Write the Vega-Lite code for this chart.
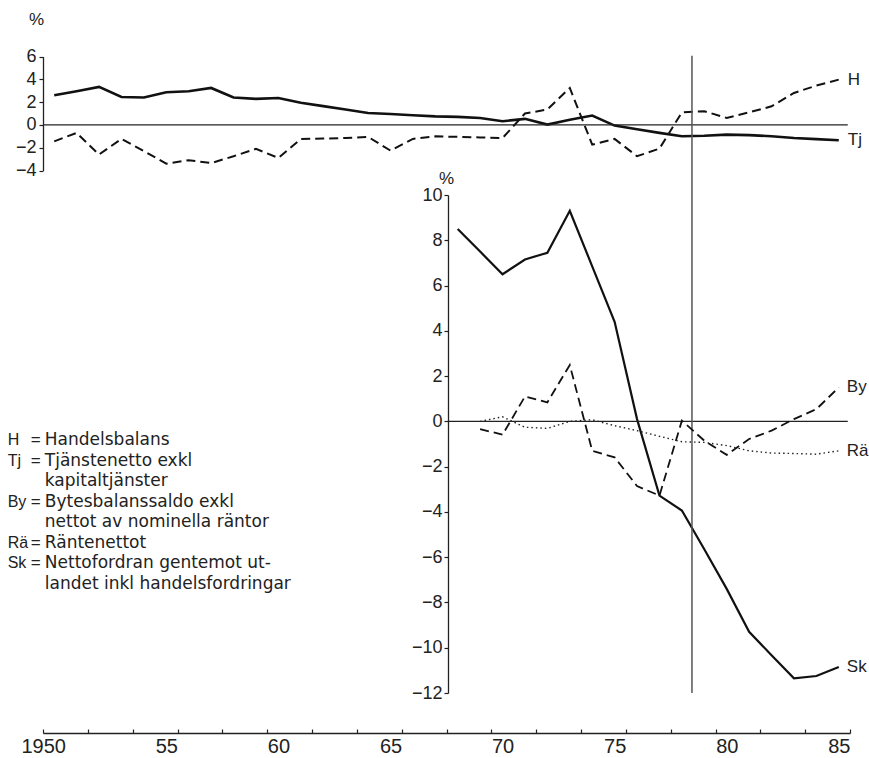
{
  "$schema": "https://vega.github.io/schema/vega-lite/v6.json",
  "width": 807,
  "height": 733,
  "autosize": "none",
  "padding": {"left": 43, "top": 0, "right": 19, "bottom": 25},
  "background": "white",
  "config": {
    "view": {"stroke": null},
    "font": "Liberation Sans",
    "axis": {"grid": false, "domainColor": "#222", "tickColor": "#222", "labelColor": "#222", "titleColor": "#222", "labelFont": "Liberation Sans", "titleFont": "Liberation Sans", "titleFontWeight": "normal"}
  },
  "datasets": {
    "top": [
      {"year":1950,"series":"Tj","value":2.6},{"year":1951,"series":"Tj","value":2.95},{"year":1952,"series":"Tj","value":3.33},{"year":1953,"series":"Tj","value":2.45},{"year":1954,"series":"Tj","value":2.4},{"year":1955,"series":"Tj","value":2.86},{"year":1956,"series":"Tj","value":2.95},{"year":1957,"series":"Tj","value":3.24},{"year":1958,"series":"Tj","value":2.4},{"year":1959,"series":"Tj","value":2.28},{"year":1960,"series":"Tj","value":2.36},{"year":1961,"series":"Tj","value":1.95},{"year":1962,"series":"Tj","value":1.65},{"year":1963,"series":"Tj","value":1.35},{"year":1964,"series":"Tj","value":1.05},{"year":1965,"series":"Tj","value":0.95},{"year":1966,"series":"Tj","value":0.85},{"year":1967,"series":"Tj","value":0.75},{"year":1968,"series":"Tj","value":0.7},{"year":1969,"series":"Tj","value":0.6},{"year":1970,"series":"Tj","value":0.32},{"year":1971,"series":"Tj","value":0.53},{"year":1972,"series":"Tj","value":0.03},{"year":1973,"series":"Tj","value":0.45},{"year":1974,"series":"Tj","value":0.82},{"year":1975,"series":"Tj","value":-0.06},{"year":1976,"series":"Tj","value":-0.38},{"year":1977,"series":"Tj","value":-0.7},{"year":1978,"series":"Tj","value":-1.0},{"year":1979,"series":"Tj","value":-0.95},{"year":1980,"series":"Tj","value":-0.85},{"year":1981,"series":"Tj","value":-0.9},{"year":1982,"series":"Tj","value":-1.0},{"year":1983,"series":"Tj","value":-1.15},{"year":1984,"series":"Tj","value":-1.25},{"year":1985,"series":"Tj","value":-1.35},
      {"year":1950,"series":"H","value":-1.44},{"year":1951,"series":"H","value":-0.7},{"year":1952,"series":"H","value":-2.6},{"year":1953,"series":"H","value":-1.23},{"year":1954,"series":"H","value":-2.3},{"year":1955,"series":"H","value":-3.4},{"year":1956,"series":"H","value":-3.1},{"year":1957,"series":"H","value":-3.35},{"year":1958,"series":"H","value":-2.75},{"year":1959,"series":"H","value":-2.1},{"year":1960,"series":"H","value":-2.9},{"year":1961,"series":"H","value":-1.23},{"year":1962,"series":"H","value":-1.2},{"year":1963,"series":"H","value":-1.15},{"year":1964,"series":"H","value":-1.05},{"year":1965,"series":"H","value":-2.25},{"year":1966,"series":"H","value":-1.23},{"year":1967,"series":"H","value":-1.0},{"year":1968,"series":"H","value":-1.05},{"year":1969,"series":"H","value":-1.1},{"year":1970,"series":"H","value":-1.15},{"year":1971,"series":"H","value":1.0},{"year":1972,"series":"H","value":1.35},{"year":1973,"series":"H","value":3.24},{"year":1974,"series":"H","value":-1.73},{"year":1975,"series":"H","value":-1.23},{"year":1976,"series":"H","value":-2.75},{"year":1977,"series":"H","value":-2.08},{"year":1978,"series":"H","value":1.1},{"year":1979,"series":"H","value":1.2},{"year":1980,"series":"H","value":0.61},{"year":1981,"series":"H","value":1.1},{"year":1982,"series":"H","value":1.63},{"year":1983,"series":"H","value":2.8},{"year":1984,"series":"H","value":3.45},{"year":1985,"series":"H","value":3.97}
    ],
    "bottom": [
      {"year":1968,"series":"Sk","value":8.5},{"year":1969,"series":"Sk","value":7.5},{"year":1970,"series":"Sk","value":6.5},{"year":1971,"series":"Sk","value":7.15},{"year":1972,"series":"Sk","value":7.45},{"year":1973,"series":"Sk","value":9.3},{"year":1974,"series":"Sk","value":6.85},{"year":1975,"series":"Sk","value":4.4},{"year":1976,"series":"Sk","value":0.1},{"year":1977,"series":"Sk","value":-3.28},{"year":1978,"series":"Sk","value":-3.94},{"year":1979,"series":"Sk","value":-5.65},{"year":1980,"series":"Sk","value":-7.4},{"year":1981,"series":"Sk","value":-9.3},{"year":1982,"series":"Sk","value":-10.33},{"year":1983,"series":"Sk","value":-11.35},{"year":1984,"series":"Sk","value":-11.25},{"year":1985,"series":"Sk","value":-10.85},
      {"year":1969,"series":"By","value":-0.34},{"year":1970,"series":"By","value":-0.59},{"year":1971,"series":"By","value":1.1},{"year":1972,"series":"By","value":0.84},{"year":1973,"series":"By","value":2.49},{"year":1974,"series":"By","value":-1.3},{"year":1975,"series":"By","value":-1.59},{"year":1976,"series":"By","value":-2.86},{"year":1977,"series":"By","value":-3.28},{"year":1978,"series":"By","value":0.03},{"year":1979,"series":"By","value":-0.85},{"year":1980,"series":"By","value":-1.48},{"year":1981,"series":"By","value":-0.78},{"year":1982,"series":"By","value":-0.41},{"year":1983,"series":"By","value":0.1},{"year":1984,"series":"By","value":0.54},{"year":1985,"series":"By","value":1.5},
      {"year":1969,"series":"Rä","value":0},{"year":1970,"series":"Rä","value":0.2},{"year":1971,"series":"Rä","value":-0.26},{"year":1972,"series":"Rä","value":-0.31},{"year":1973,"series":"Rä","value":0},{"year":1974,"series":"Rä","value":0.07},{"year":1975,"series":"Rä","value":-0.19},{"year":1976,"series":"Rä","value":-0.41},{"year":1977,"series":"Rä","value":-0.66},{"year":1978,"series":"Rä","value":-0.9},{"year":1979,"series":"Rä","value":-0.93},{"year":1980,"series":"Rä","value":-1.07},{"year":1981,"series":"Rä","value":-1.3},{"year":1982,"series":"Rä","value":-1.4},{"year":1983,"series":"Rä","value":-1.42},{"year":1984,"series":"Rä","value":-1.45},{"year":1985,"series":"Rä","value":-1.3}
    ],
    "key": [
      {"line":1,"key":"H","eq":"=","desc":"Handelsbalans"},
      {"line":2,"key":"Tj","eq":"=","desc":"Tjänstenetto exkl"},
      {"line":3,"key":"","eq":"","desc":"kapitaltjänster"},
      {"line":4,"key":"By","eq":"=","desc":"Bytesbalanssaldo exkl"},
      {"line":5,"key":"","eq":"","desc":"nettot av nominella räntor"},
      {"line":6,"key":"Rä","eq":"=","desc":"Räntenettot"},
      {"line":7,"key":"Sk","eq":"=","desc":"Nettofordran gentemot ut-"},
      {"line":8,"key":"","eq":"","desc":"landet inkl handelsfordringar"}
    ]
  },
  "layer": [
    {
      "data": {"name": "top"},
      "layer": [
        {
          "transform": [{"filter": "datum.series === 'Tj'"}],
          "mark": {"type": "line", "color": "#111", "strokeWidth": 2.6},
          "encoding": {
            "x": {"field": "year", "type": "quantitative", "scale": {"domain": [1949.5, 1985.5], "nice": false, "zero": false},
              "axis": {"title": null, "orient": "bottom", "values": [1949.5,1950.5,1951.5,1952.5,1953.5,1954.5,1955.5,1956.5,1957.5,1958.5,1959.5,1960.5,1961.5,1962.5,1963.5,1964.5,1965.5,1966.5,1967.5,1968.5,1969.5,1970.5,1971.5,1972.5,1973.5,1974.5,1975.5,1976.5,1977.5,1978.5,1979.5,1980.5,1981.5,1982.5,1983.5,1984.5,1985.5],
                "labels": false, "tickSize": -4, "tickWidth": 1.2, "domainWidth": 1.3}},
            "y": {"field": "value", "type": "quantitative", "scale": {"domain": [-4, 6], "range": [170.5, 56.5], "nice": false, "zero": false},
              "axis": {"orient": "left", "values": [-4, -2, 0, 2, 4, 6], "format": "d", "tickSize": 4, "labelPadding": 3, "labelFontSize": 18, "domainWidth": 1.3, "tickWidth": 1.2,
                "title": "%", "titleAngle": 0, "titleX": -7, "titleY": 19, "titleAlign": "center", "titleBaseline": "middle", "titleFontSize": 17}}
          }
        },
        {
          "data": {"values": [{}]},
          "mark": {"type": "rule", "color": "#222", "strokeWidth": 1.2},
          "encoding": {
            "x": {"datum": 1949.5, "type": "quantitative"},
            "x2": {"datum": 1985.4},
            "y": {"datum": 0, "type": "quantitative"}
          }
        },
        {
          "transform": [{"filter": "datum.series === 'H'"}],
          "mark": {"type": "line", "color": "#111", "strokeWidth": 2, "strokeDash": [9, 5]},
          "encoding": {
            "x": {"field": "year", "type": "quantitative"},
            "y": {"field": "value", "type": "quantitative"}
          }
        },
        {
          "transform": [{"filter": "datum.year === 1985"}],
          "mark": {"type": "text", "align": "left", "baseline": "middle", "dx": 9, "fontSize": 17, "color": "#222"},
          "encoding": {
            "x": {"field": "year", "type": "quantitative"},
            "y": {"field": "value", "type": "quantitative"},
            "text": {"field": "series"}
          }
        }
      ]
    },
    {
      "data": {"name": "bottom"},
      "layer": [
        {
          "transform": [{"filter": "datum.series === 'Sk'"}],
          "mark": {"type": "line", "color": "#111", "strokeWidth": 2.2},
          "encoding": {
            "x": {"field": "year", "type": "quantitative", "scale": {"domain": [1949.5, 1985.5], "nice": false, "zero": false},
              "axis": {"title": null, "orient": "bottom", "values": [1950.5, 1955.5, 1960.5, 1965.5, 1970.5, 1975.5, 1980.5, 1985.5],
                "labelExpr": "datum.value == 1950.5 ? '1950' : substring(toString(datum.value - 0.5), 2)",
                "labelAlign": "right", "labelFontSize": 20, "labelPadding": 3, "labelFlush": false, "labelBound": false, "labelOverlap": false,
                "ticks": false, "domain": false}},
            "y": {"field": "value", "type": "quantitative", "scale": {"domain": [-12, 10], "range": [693, 195], "nice": false, "zero": false},
              "axis": {"orient": "left", "offset": -405, "values": [-12, -10, -8, -6, -4, -2, 0, 2, 4, 6, 8, 10], "format": "d", "tickSize": 4, "labelPadding": 2, "labelFontSize": 18, "domainWidth": 1.3, "tickWidth": 1.2,
                "title": "%", "titleAngle": 0, "titleX": -2, "titleY": 178, "titleAlign": "center", "titleBaseline": "middle", "titleFontSize": 17}}
          }
        },
        {
          "data": {"values": [{}]},
          "mark": {"type": "rule", "color": "#222", "strokeWidth": 1.2},
          "encoding": {
            "x": {"datum": 1967.56, "type": "quantitative"},
            "x2": {"datum": 1985.4},
            "y": {"datum": 0, "type": "quantitative"}
          }
        },
        {
          "data": {"values": [{}]},
          "mark": {"type": "rule", "color": "#555", "strokeWidth": 1.5},
          "encoding": {
            "x": {"datum": 1978.45, "type": "quantitative"},
            "y": {"datum": -12, "type": "quantitative"},
            "y2": {"datum": 16.15}
          }
        },
        {
          "transform": [{"filter": "datum.series === 'By'"}],
          "mark": {"type": "line", "color": "#111", "strokeWidth": 1.8, "strokeDash": [9, 5]},
          "encoding": {
            "x": {"field": "year", "type": "quantitative"},
            "y": {"field": "value", "type": "quantitative"}
          }
        },
        {
          "transform": [{"filter": "datum.series === 'Rä'"}],
          "mark": {"type": "line", "color": "#222", "strokeWidth": 1.4, "strokeDash": [1.5, 3]},
          "encoding": {
            "x": {"field": "year", "type": "quantitative"},
            "y": {"field": "value", "type": "quantitative"}
          }
        },
        {
          "transform": [{"filter": "datum.year === 1985"}],
          "mark": {"type": "text", "align": "left", "baseline": "middle", "dx": 8, "fontSize": 17, "color": "#222"},
          "encoding": {
            "x": {"field": "year", "type": "quantitative"},
            "y": {"field": "value", "type": "quantitative"},
            "text": {"field": "series"}
          }
        }
      ]
    },
    {
      "data": {"name": "key"},
      "layer": [
        {
          "mark": {"type": "text", "align": "left", "baseline": "middle", "font": "Liberation Sans", "fontSize": 16, "color": "#222"},
          "encoding": {
            "x": {"datum": 1947.925, "type": "quantitative", "scale": {"domain": [1949.5, 1985.5], "nice": false, "zero": false}, "axis": null},
            "y": {"field": "line", "type": "quantitative", "scale": {"domain": [1, 8], "range": [440, 584], "nice": false, "zero": false}, "axis": null},
            "text": {"field": "key"}
          }
        },
        {
          "mark": {"type": "text", "align": "left", "baseline": "middle", "font": "Liberation Sans", "fontSize": 17, "color": "#222"},
          "encoding": {
            "x": {"datum": 1948.95, "type": "quantitative"},
            "y": {"field": "line", "type": "quantitative"},
            "text": {"field": "eq"}
          }
        },
        {
          "mark": {"type": "text", "align": "left", "baseline": "middle", "font": "DejaVu Sans", "fontSize": 17, "color": "#222"},
          "encoding": {
            "x": {"datum": 1949.58, "type": "quantitative"},
            "y": {"field": "line", "type": "quantitative"},
            "text": {"field": "desc"}
          }
        }
      ]
    }
  ],
  "resolve": {"scale": {"x": "independent", "y": "independent"}, "axis": {"x": "independent", "y": "independent"}}
}
